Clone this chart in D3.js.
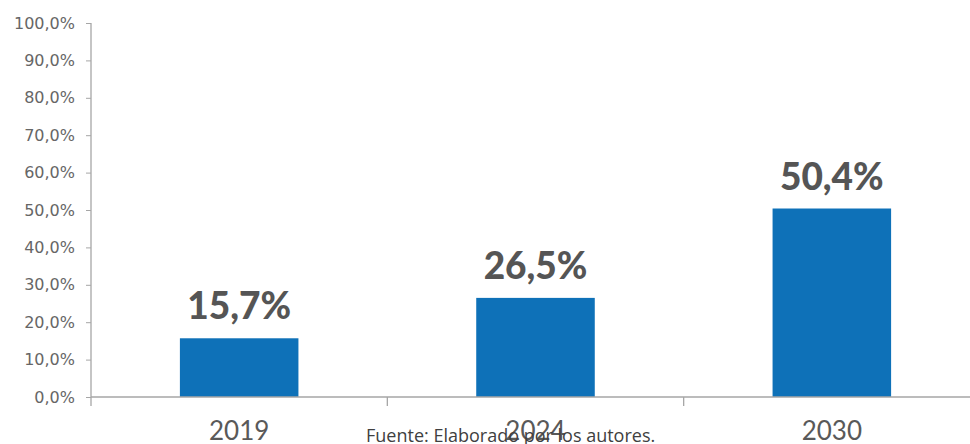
<!DOCTYPE html>
<html><head><meta charset="utf-8">
<script src="https://cdn.jsdelivr.net/npm/d3@7"></script>
<style>body{margin:0;background:#fff;}svg{display:block;}</style>
</head><body>
<script>
const categories = ["2019", "2024", "2030"];
const values = [15.7, 26.5, 50.4];
const labels = ["15,7%", "26,5%", "50,4%"];
const yTicks = [0,10,20,30,40,50,60,70,80,90,100];

const W = 970, H = 444;
const svg = d3.select("body").append("svg").attr("width", W).attr("height", H);
const x0 = 91, x1 = 980, y0 = 397, y1 = 23;
const x = d3.scaleBand().domain(categories).range([x0, x1]).paddingInner(0).paddingOuter(0);
const y = d3.scaleLinear().domain([0, 100]).range([y0, y1]);
const grey = "#a6a6a6";
const textCol = "#595959";
const font = "Lato, 'Open Sans', sans-serif";

// y axis
const yAxis = svg.append("g").attr("transform", `translate(${x0},0)`)
  .call(d3.axisLeft(y).tickValues(yTicks).tickSize(5).tickPadding(11)
    .tickFormat(d => d3.format(".1f")(d).replace(".", ",") + "%"));
yAxis.select(".domain").remove();
yAxis.selectAll(".tick line").attr("stroke", grey);
yAxis.selectAll(".tick text").attr("fill", "#666666")
  .style("font-family", "'DejaVu Sans', sans-serif").style("font-size", "16px");
svg.append("line").attr("x1", x0).attr("x2", x0).attr("y1", y1).attr("y2", y0 + 9).attr("stroke", grey).attr("stroke-width", 1.3);

// bars
const barW = x.bandwidth() * 0.4;
svg.selectAll("rect.bar").data(values).join("rect").attr("class", "bar")
  .attr("x", (d, i) => x(categories[i]) + x.bandwidth() / 2 - barW / 2)
  .attr("width", barW)
  .attr("y", d => y(d)).attr("height", d => y0 - y(d))
  .attr("fill", "#0e71b8");

// x axis
svg.append("line").attr("x1", x0).attr("x2", W).attr("y1", y0).attr("y2", y0).attr("stroke", grey).attr("stroke-width", 1.3);
categories.slice(1).forEach(c => {
  svg.append("line").attr("x1", x(c)).attr("x2", x(c)).attr("y1", y0).attr("y2", y0 + 9).attr("stroke", grey).attr("stroke-width", 1.3);
});
svg.selectAll("text.cat").data(categories).join("text").attr("class", "cat")
  .attr("x", d => x(d) + x.bandwidth() / 2).attr("y", 440)
  .attr("text-anchor", "middle").attr("fill", textCol)
  .style("font-family", font).style("font-size", "26px").text(d => d);

// value labels
svg.selectAll("text.val").data(values).join("text").attr("class", "val")
  .attr("x", (d, i) => x(categories[i]) + x.bandwidth() / 2).attr("y", d => y(d) - 19)
  .attr("text-anchor", "middle").attr("fill", "#555555")
  .style("font-family", font).style("font-weight", "900").style("font-size", "37px")
  .text((d, i) => labels[i]);

// source
svg.append("text").attr("x", 366).attr("y", 442).attr("fill", "#404040")
  .style("font-family", "'Open Sans', sans-serif").style("font-size", "18px")
  .text("Fuente: Elaborado por los autores.");
</script>
</body></html>
